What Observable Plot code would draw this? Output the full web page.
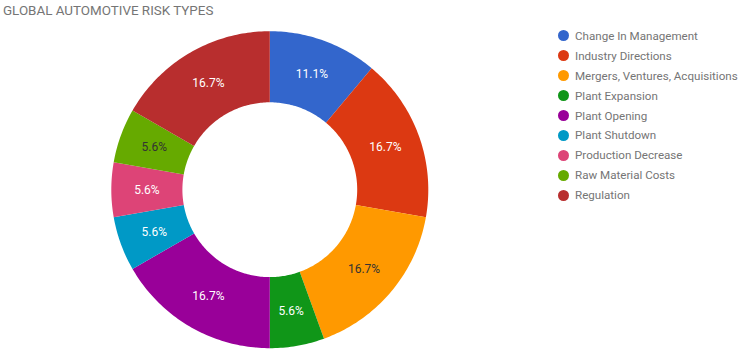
<!DOCTYPE html>
<html>
<head>
<meta charset="utf-8">
<script src="https://cdn.jsdelivr.net/npm/d3@7"></script>
<script src="https://cdn.jsdelivr.net/npm/@observablehq/plot@0.6"></script>
<style>
  body { margin: 0; background: #fff; font-family: Roboto, sans-serif; }
  #wrap { position: relative; width: 740px; height: 352px; overflow: hidden; }
  #title { position: absolute; left: 3px; top: 3px; font-size: 13.4px; color: #757575; white-space: nowrap; }
  #legend { position: absolute; left: 557.5px; top: 26px; }
  .item { display: flex; align-items: center; height: 19.9px; font-size: 11.6px; color: #757575; white-space: nowrap; }
  .sw { width: 11px; height: 11px; border-radius: 50%; margin-right: 6.5px; flex: none; }
  svg { display: block; }
</style>
</head>
<body>
<div id="wrap">
  <div id="chart"></div>
  <div id="title"></div>
  <div id="legend"></div>
</div>
<script>
const titleText = "GLOBAL AUTOMOTIVE RISK TYPES";
const categories = [
  "Change In Management",
  "Industry Directions",
  "Mergers, Ventures, Acquisitions",
  "Plant Expansion",
  "Plant Opening",
  "Plant Shutdown",
  "Production Decrease",
  "Raw Material Costs",
  "Regulation"
];
const counts = [2, 3, 3, 1, 3, 1, 1, 1, 3];
const colors = ["#3366cc", "#dc3912", "#ff9900", "#109618", "#990099", "#0099c6", "#dd4477", "#66aa00", "#b82e2e"];

const rows = categories.map((c, i) => ({cat: c, count: counts[i], color: colors[i]}));
const total = d3.sum(counts);
const fmt = d3.format(".1%");

const R = 158.5, cx = 269.3, cy = 189.2;
const inner = 87.4 / R;
const mid = (1 + inner) / 2;

const arcs = d3.pie().sort(null).value(d => d.count)(rows);

// polygon points for each slice in unit polar coordinates
const pts = [];
for (const a of arcs) {
  const n = Math.max(2, Math.ceil((a.endAngle - a.startAngle) / (Math.PI / 180)));
  for (let k = 0; k <= n; k++) {
    const t = a.startAngle + (a.endAngle - a.startAngle) * k / n;
    pts.push({cat: a.data.cat, x: Math.sin(t), y: Math.cos(t)});
  }
  for (let k = n; k >= 0; k--) {
    const t = a.startAngle + (a.endAngle - a.startAngle) * k / n;
    pts.push({cat: a.data.cat, x: inner * Math.sin(t), y: inner * Math.cos(t)});
  }
}

const labelData = arcs.map(a => {
  const m = (a.startAngle + a.endAngle) / 2;
  return {
    cat: a.data.cat,
    x: mid * Math.sin(m),
    y: mid * Math.cos(m),
    text: fmt(a.data.count / total),
    dark: d3.lab(a.data.color).l > 60
  };
});

const plot = Plot.plot({
  width: 740,
  height: 352,
  margin: 0,
  x: {domain: [-1, 1], range: [cx - R, cx + R], axis: null},
  y: {domain: [-1, 1], range: [cy + R, cy - R], axis: null},
  color: {domain: categories, range: colors},
  style: {background: "#fff", fontFamily: "Roboto, sans-serif"},
  marks: [
    Plot.line(pts, {x: "x", y: "y", z: "cat", fill: "cat", stroke: "none", curve: "linear"}),
    Plot.text(labelData.filter(d => !d.dark), {x: "x", y: "y", text: "text", fill: "#ffffff", fontSize: 12}),
    Plot.text(labelData.filter(d => d.dark), {x: "x", y: "y", text: "text", fill: "#333333", fontSize: 12})
  ]
});
document.getElementById("chart").appendChild(plot);

document.getElementById("title").textContent = titleText;
const legend = document.getElementById("legend");
categories.forEach((c, i) => {
  const item = document.createElement("div");
  item.className = "item";
  const sw = document.createElement("span");
  sw.className = "sw";
  sw.style.background = colors[i];
  const tx = document.createElement("span");
  tx.textContent = c;
  item.appendChild(sw);
  item.appendChild(tx);
  legend.appendChild(item);
});
</script>
</body>
</html>
